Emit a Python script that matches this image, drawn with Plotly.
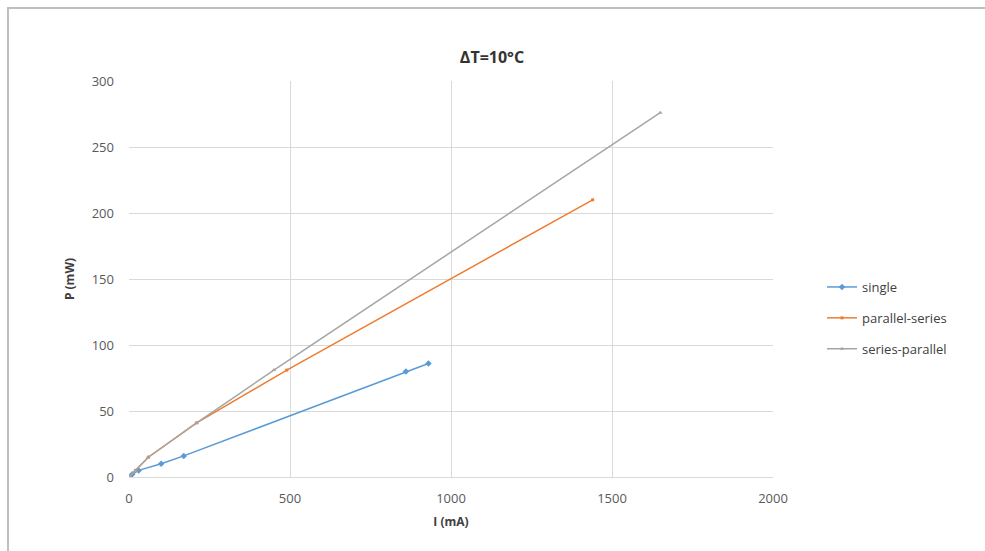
import plotly.graph_objects as go

single_I = [0, 10, 30, 100, 170, 860, 930]
single_P = [0, 2, 5, 10, 16, 80, 86]

ps_I = [0, 20, 60, 210, 490, 1440]
ps_P = [0, 5, 15, 41, 81, 210]

sp_I = [0, 20, 60, 210, 450, 1650]
sp_P = [0, 5, 15, 41, 81, 276]

x_ticks = [0, 500, 1000, 1500, 2000]
y_ticks = [0, 50, 100, 150, 200, 250, 300]

W, H = 985, 551
L, R, T, B = 129, 773, 81, 477

fig = go.Figure()
fig.add_trace(go.Scatter(x=single_I, y=single_P, name="single", mode="lines+markers",
                         line=dict(color="#5b9bd5", width=1.5),
                         marker=dict(symbol="diamond", size=5, color="#5b9bd5"),
                         legendgroup="a"))
fig.add_trace(go.Scatter(x=ps_I, y=ps_P, name="parallel-series", mode="lines+markers",
                         line=dict(color="#ed7d31", width=1.5),
                         marker=dict(symbol="square", size=3, color="#ed7d31"),
                         legendgroup="b"))
fig.add_trace(go.Scatter(x=sp_I, y=sp_P, name="series-parallel", mode="lines+markers",
                         line=dict(color="#a5a5a5", width=1.5),
                         marker=dict(symbol="triangle-up", size=4, color="#a5a5a5"),
                         legendgroup="c"))

pw, ph = R - L, B - T
def px(x):
    return (x - L) / pw
def py(y):
    return (B - y) / ph

fig.add_shape(type="rect", xref="paper", yref="paper",
              x0=px(8), x1=px(995), y0=py(565), y1=py(8),
              line=dict(color="#bfbfbf", width=2), layer="below")

fig.update_layout(
    width=W, height=H,
    margin=dict(l=L, r=W - R, t=T, b=H - B),
    paper_bgcolor="white", plot_bgcolor="white",
    font=dict(family="Open Sans, Liberation Sans, sans-serif", color="#595959", size=13),
    title=dict(text="<b>ΔT=10°C</b>", x=492 / W, xanchor="center",
               y=1 - 57 / H, yanchor="middle",
               font=dict(size=16, color="#333333")),
    xaxis=dict(range=[0, 2000], tickvals=x_ticks, showgrid=True, gridcolor="#d9d9d9",
               gridwidth=1, zeroline=False, showline=True, linecolor="#d9d9d9",
               ticks="", ticklabelstandoff=9,
               title=dict(text="<b>I (mA)</b>", font=dict(size=12, color="#404040"), standoff=12)),
    yaxis=dict(range=[0, 300], tickvals=y_ticks, showgrid=True, gridcolor="#d9d9d9",
               gridwidth=1, zeroline=False, showline=False, ticks="", ticklabelstandoff=14,
               title=dict(text="<b>P (mW)</b>", font=dict(size=12, color="#404040"), standoff=14)),
    legend=dict(x=px(822), y=py(272), xanchor="left", yanchor="top",
                font=dict(size=13, color="#404040"), tracegroupgap=11,
                itemwidth=30, bgcolor="rgba(0,0,0,0)"),
    showlegend=True,
)

fig.write_html("out.html")
